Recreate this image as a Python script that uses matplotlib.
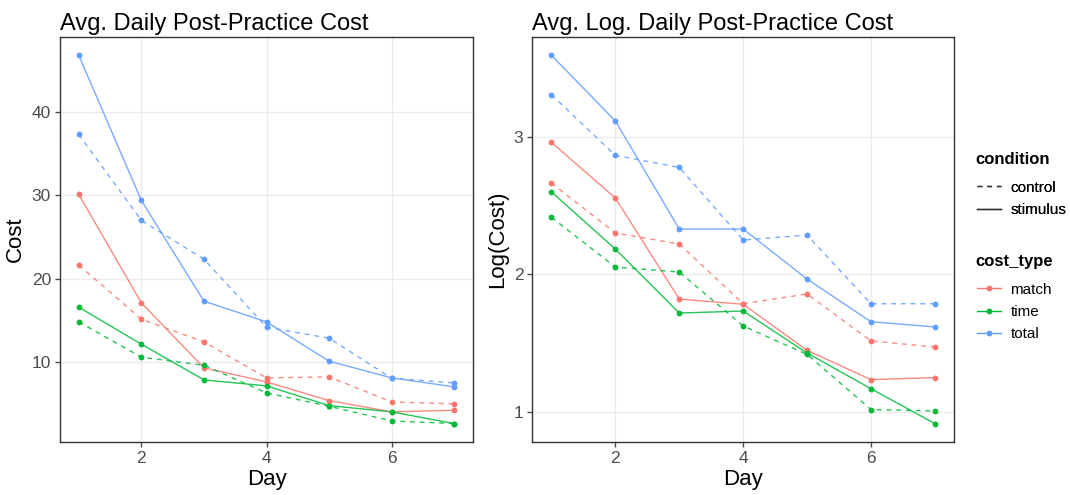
import matplotlib.pyplot as plt
from matplotlib.lines import Line2D

plt.rcParams["font.family"] = ["Liberation Sans", "DejaVu Sans"]

days = [1, 2, 3, 4, 5, 6, 7]
cost_types = ["match", "time", "total"]
colors = {"match": "#F8766D", "time": "#00BA38", "total": "#619CFF"}

# Avg. daily cost
cost_stimulus = {
    "match": [30.08, 17.08, 9.28, 7.6, 5.36, 4.0, 4.2],
    "time": [16.56, 12.12, 7.84, 7.12, 4.76, 4.0, 2.6],
    "total": [46.76, 29.36, 17.28, 14.8, 10.08, 8.08, 7.0],
}
cost_control = {
    "match": [21.6, 15.12, 12.4, 8.08, 8.2, 5.2, 4.96],
    "time": [14.8, 10.56, 9.6, 6.28, 4.68, 2.92, 2.6],
    "total": [37.28, 26.96, 22.32, 14.16, 12.84, 8.04, 7.48],
}

# Avg. log daily cost
log_stimulus = {
    "match": [2.961, 2.556, 1.820, 1.782, 1.447, 1.233, 1.248],
    "time": [2.600, 2.184, 1.718, 1.733, 1.427, 1.167, 0.913],
    "total": [3.595, 3.117, 2.330, 2.330, 1.966, 1.655, 1.617],
}
log_control = {
    "match": [2.665, 2.301, 2.221, 1.786, 1.857, 1.515, 1.471],
    "time": [2.415, 2.053, 2.017, 1.624, 1.417, 1.015, 1.005],
    "total": [3.308, 2.867, 2.779, 2.250, 2.286, 1.786, 1.786],
}

DASH = (0, (3.5, 3.5))


def draw_panel(ax, stim, ctrl, title, ylabel, yticks):
    for ct in cost_types:
        c = colors[ct]
        for vals, ls in ((ctrl[ct], DASH), (stim[ct], "-")):
            ax.plot(days, vals, color=c, lw=1.0, ls=ls, alpha=0.85, zorder=2)
            ax.plot(days, vals, ls="none", marker="o", ms=4.2, color=c,
                    markeredgewidth=0, zorder=3)
    allv = [v for d in (stim, ctrl) for s in d.values() for v in s]
    lo, hi = min(allv), max(allv)
    pad = (hi - lo) * 0.05
    ax.set_ylim(lo - pad, hi + pad)
    ax.set_xlim(0.7, 7.3)
    ax.set_xticks([2, 4, 6])
    ax.set_yticks(yticks)
    ax.grid(True, color="#EBEBEB", lw=1.0, zorder=0)
    ax.set_axisbelow(True)
    for sp in ax.spines.values():
        sp.set_color("#333333")
        sp.set_linewidth(1.0)
    ax.tick_params(colors="#4D4D4D", labelsize=12.5, length=3.5, width=1.0,
                   pad=3)
    ax.set_title(title, loc="left", fontsize=17, pad=5)
    ax.set_xlabel("Day", fontsize=16, labelpad=2)
    ax.set_ylabel(ylabel, fontsize=16, labelpad=4)


fig = plt.figure(figsize=(10.7, 4.95), dpi=100)
ax1 = fig.add_axes([0.0561, 0.1071, 0.386, 0.8182])
ax2 = fig.add_axes([0.4975, 0.1071, 0.3941, 0.8182])

draw_panel(ax1, cost_stimulus, cost_control,
           "Avg. Daily Post-Practice Cost", "Cost", [10, 20, 30, 40])
draw_panel(ax2, log_stimulus, log_control,
           "Avg. Log. Daily Post-Practice Cost", "Log(Cost)", [1, 2, 3])

# Legends
leg_kw = dict(loc="upper left", frameon=False, fontsize=11,
              handlelength=1.6, handletextpad=0.6, labelspacing=0.55,
              borderpad=0, borderaxespad=0)

fig.text(0.912, 0.677, "condition", fontsize=12, fontweight="bold",
         va="center", ha="left")
cond_handles = [
    Line2D([], [], color="#333333", lw=1.0, ls=DASH),
    Line2D([], [], color="#333333", lw=1.0, ls="-"),
]
leg1 = fig.legend(cond_handles, ["control", "stimulus"],
                  bbox_to_anchor=(0.913, 0.635), **leg_kw)
fig.add_artist(leg1)

fig.text(0.912, 0.471, "cost_type", fontsize=12, fontweight="bold",
         va="center", ha="left")
type_handles = [
    Line2D([], [], color=colors[ct], lw=1.0, marker="o", ms=4.2,
           markeredgewidth=0) for ct in cost_types
]
fig.legend(type_handles, cost_types, bbox_to_anchor=(0.913, 0.429), **leg_kw)

fig.savefig("out.png", dpi=100)
